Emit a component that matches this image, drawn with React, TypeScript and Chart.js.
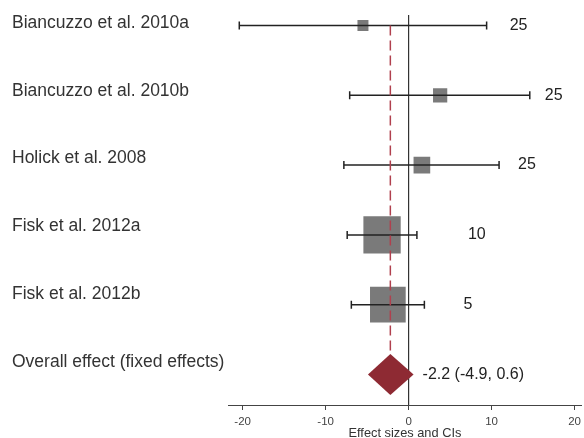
import React, { useEffect, useRef } from 'react';
import { Chart, registerables } from 'chart.js';

Chart.register(...registerables);

// ---- data ----
const studies = [
  'Biancuzzo et al. 2010a',
  'Biancuzzo et al. 2010b',
  'Holick et al. 2008',
  'Fisk et al. 2012a',
  'Fisk et al. 2012b',
];
const overallLabel = 'Overall effect (fixed effects)';
const estimates = [-5.5, 3.8, 1.6, -3.2, -2.5];
const lower = [-20.4, -7.1, -7.8, -7.4, -6.9];
const upper = [9.4, 14.6, 10.9, 1.0, 1.9];
const weights = [3.7, 6.2, 8.5, 42.6, 39.0];
const sampleSizes = ['25', '25', '25', '10', '5'];
const overallEst = -2.2;
const overallLo = -4.9;
const overallHi = 0.6;
const xTicks = [-20, -10, 0, 10, 20];
const xTitle = 'Effect sizes and CIs';

// ---- layout / style ----
const FONT = '"Liberation Sans", Arial, Helvetica, sans-serif';
const SQUARE_K = 5.715; // px side per sqrt(weight)
const LABEL_GAPS = [23, 15, 19, 51, 39, 9]; // px right of upper CI
const DIAMOND_HALF = 0.294; // rows
const ZERO_TOP = -0.15;
const DASH_END = 4.706;

const forestPlugin = {
  id: 'forestText',
  afterDatasetsDraw(chart: any) {
    const ctx = chart.ctx;
    const xs = chart.scales.x;
    const ys = chart.scales.y;
    const yl = chart.scales.yl;
    const row = studies.length;
    const yc = ys.getPixelForValue(row);
    const h = ys.getPixelForValue(row + DIAMOND_HALF) - yc;
    ctx.save();
    // diamond
    ctx.fillStyle = '#8e2a33';
    ctx.beginPath();
    ctx.moveTo(xs.getPixelForValue(overallLo), yc);
    ctx.lineTo(xs.getPixelForValue(overallEst), yc - h);
    ctx.lineTo(xs.getPixelForValue(overallHi), yc);
    ctx.lineTo(xs.getPixelForValue(overallEst), yc + h);
    ctx.closePath();
    ctx.fill();
    // left labels
    ctx.fillStyle = '#333';
    ctx.textAlign = 'left';
    ctx.textBaseline = 'middle';
    ctx.font = `17.5px ${FONT}`;
    [...studies, overallLabel].forEach((t, i) => {
      ctx.fillText(t, 12, yl.getPixelForValue(i) + 1);
    });
    // right labels
    ctx.fillStyle = '#222';
    ctx.font = `16px ${FONT}`;
    sampleSizes.forEach((t, i) => {
      ctx.fillText(t, xs.getPixelForValue(upper[i]) + LABEL_GAPS[i], ys.getPixelForValue(i));
    });
    ctx.fillText(
      `${overallEst} (${overallLo}, ${overallHi})`,
      xs.getPixelForValue(overallHi) + LABEL_GAPS[5],
      yc
    );
    ctx.restore();
  },
};

export default function App() {
  const ref = useRef<HTMLCanvasElement>(null);
  useEffect(() => {
    document.body.style.margin = '0';
    const canvas = ref.current;
    if (!canvas) return;

    const ciSets = studies.map((s, i) => ({
      label: 'ci-' + s,
      data: [
        { x: lower[i], y: i },
        { x: upper[i], y: i },
      ],
      showLine: true,
      borderColor: '#222',
      borderWidth: 1.5,
      pointStyle: 'line',
      rotation: 90,
      pointRadius: 4,
      pointBorderWidth: 1.5,
      pointBorderColor: '#222',
      pointBackgroundColor: '#222',
    }));

    const chart = new Chart(canvas, {
      type: 'scatter',
      data: {
        datasets: [
          {
            label: 'pooled',
            data: [
              { x: overallEst, y: 0 },
              { x: overallEst, y: DASH_END },
            ],
            showLine: true,
            borderColor: '#b0404e',
            borderWidth: 1.5,
            borderDash: [10, 5],
            pointRadius: 0,
          },
          ...ciSets,
          {
            label: 'estimates',
            data: estimates.map((e, i) => ({ x: e, y: i })),
            showLine: false,
            pointStyle: 'rect',
            pointRadius: weights.map((w) => (SQUARE_K * Math.sqrt(w)) / 2 / Math.SQRT1_2),
            pointBackgroundColor: '#7a7a7a',
            pointBorderWidth: 0,
            pointBorderColor: '#7a7a7a',
          },
          {
            label: 'zero',
            data: [
              { x: 0, y: ZERO_TOP },
              { x: 0, y: 5.437 },
            ],
            showLine: true,
            borderColor: '#333',
            borderWidth: 1.2,
            pointRadius: 0,
          },
        ] as any,
      },
      options: {
        animation: false,
        responsive: false,
        events: [],
        layout: { autoPadding: false, padding: { left: 228, right: 0, top: 0, bottom: 0 } },
        plugins: { legend: { display: false }, tooltip: { enabled: false } },
        scales: {
          x: {
            type: 'linear',
            min: -21.76,
            max: 20.87,
            afterBuildTicks: (scale: any) => {
              scale.ticks = xTicks.map((v) => ({ value: v }));
            },
            border: { display: true, color: '#444', width: 1 },
            grid: { drawOnChartArea: false, drawTicks: true, tickLength: 5, color: '#444' },
            ticks: {
              color: '#444',
              padding: 3,
              maxRotation: 0,
              autoSkip: false,
              font: { size: 11.5, family: FONT, lineHeight: '17px' },
            },
            title: {
              display: true,
              text: xTitle,
              color: '#333',
              font: { size: 12.8, family: FONT, lineHeight: '1px' },
              padding: { top: 0, bottom: 4 },
            },
          },
          y: {
            type: 'linear',
            reverse: true,
            min: -0.365,
            max: 5.437,
            display: false,
          },
          yl: {
            type: 'linear',
            reverse: true,
            min: -0.3245,
            max: 5.649,
            display: false,
          },
        },
      } as any,
      plugins: [forestPlugin],
    });
    return () => chart.destroy();
  }, []);

  return (
    <div style={{ width: 584, height: 438 }}>
      <canvas ref={ref} width={584} height={438} />
    </div>
  );
}
